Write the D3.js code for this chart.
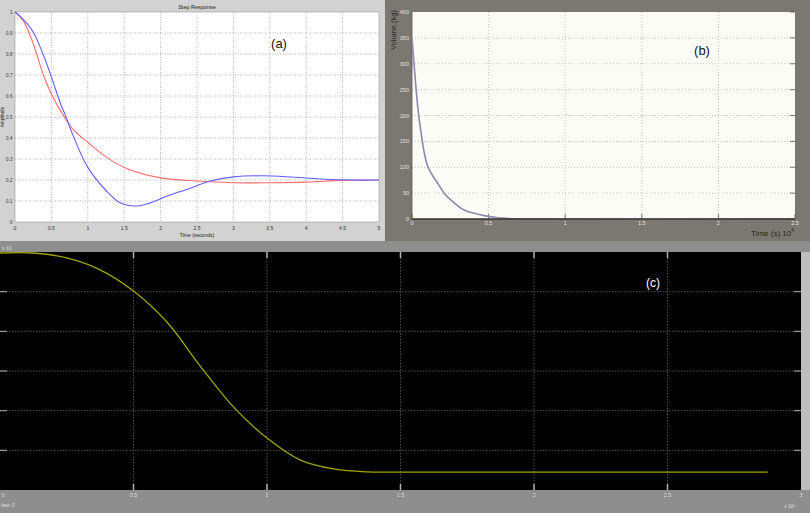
<!DOCTYPE html>
<html>
<head>
<meta charset="utf-8">
<script src="https://cdn.jsdelivr.net/npm/d3@7"></script>
<style>
  html, body { margin: 0; padding: 0; background: #ffffff; }
  svg { display: block; font-family: Arial, "Liberation Sans", sans-serif; }
</style>
</head>
<body>
<div id="content"></div>
<script>
// ---- data ----
// (a) step response, two systems
const aBlueTime = [0, 0.1, 0.25, 0.39, 0.5, 0.64, 0.69, 0.8, 1.0, 1.25, 1.45, 1.65, 1.85, 2.1, 2.4, 2.68, 3.0, 3.4, 3.8, 4.2, 4.6, 5.0];
const aBlueAmp  = [1, 0.97, 0.905, 0.795, 0.69, 0.55, 0.51, 0.41, 0.26, 0.15, 0.09, 0.076, 0.09, 0.125, 0.16, 0.195, 0.215, 0.22, 0.214, 0.205, 0.2, 0.2];
const aRedTime  = [0, 0.11, 0.25, 0.39, 0.5, 0.66, 0.8, 1.0, 1.25, 1.5, 2.0, 2.5, 3.0, 3.5, 4.0, 4.5, 5.0];
const aRedAmp   = [1, 0.96, 0.85, 0.70, 0.61, 0.51, 0.44, 0.38, 0.31, 0.26, 0.21, 0.195, 0.187, 0.187, 0.19, 0.198, 0.2];
const aXTicks = [0, 0.5, 1, 1.5, 2, 2.5, 3, 3.5, 4, 4.5, 5];
const aYTicks = [0, 0.1, 0.2, 0.3, 0.4, 0.5, 0.6, 0.7, 0.8, 0.9, 1];

// (b) volume decay
const bTime   = [0, 0.02, 0.04, 0.06, 0.08, 0.1, 0.13, 0.17, 0.215, 0.26, 0.31, 0.35, 0.42, 0.48, 0.55, 0.63, 0.75, 2.5];
const bVolume = [350, 275, 210, 165, 128, 104, 86, 68, 48, 35, 23, 16, 10, 6, 3, 1, 0, 0];
const bXTicks = [0, 0.5, 1, 1.5, 2, 2.5];
const bYTicks = [0, 50, 100, 150, 200, 250, 300, 350, 400];

// (c) scope trace
const cTime   = [0, 0.125, 0.25, 0.375, 0.5, 0.625, 0.75, 0.875, 1.0, 1.125, 1.25, 1.375, 1.5, 2.875];
const cSignal = [1.195, 1.195, 1.17, 1.11, 1.003, 0.847, 0.625, 0.418, 0.262, 0.151, 0.106, 0.091, 0.09, 0.09];
const cXTicks = [0, 0.5, 1, 1.5, 2, 2.5, 3];
const cYTicks = [0, 0.2, 0.4, 0.6, 0.8, 1.0, 1.2];

const W = 810, H = 513;
const svg = d3.select('#content').append('svg').attr('width', W).attr('height', H);
const smooth = d3.line().curve(d3.curveCatmullRom.alpha(0.5));

// ================= (a) =================
const ga = svg.append('g');
ga.append('rect').attr('x', 0).attr('y', 0).attr('width', 385).attr('height', 241).attr('fill', '#d2d2d2');
const ax = d3.scaleLinear().domain([0, 5]).range([15, 379]);
const ay = d3.scaleLinear().domain([0, 1]).range([222, 12]);
ga.append('rect').attr('x', 15).attr('y', 12).attr('width', 364).attr('height', 210).attr('fill', '#ffffff').attr('stroke', '#9a9a9a').attr('stroke-width', 0.6);
ga.selectAll('.agx').data(aXTicks.slice(1, -1)).join('line')
  .attr('x1', d => ax(d)).attr('x2', d => ax(d)).attr('y1', 12).attr('y2', 222)
  .attr('stroke', '#b4b4b4').attr('stroke-width', 1).attr('stroke-dasharray', '1,1.5');
ga.selectAll('.agy').data(aYTicks.slice(1, -1)).join('line')
  .attr('x1', 15).attr('x2', 379).attr('y1', d => ay(d)).attr('y2', d => ay(d))
  .attr('stroke', '#b4b4b4').attr('stroke-width', 1).attr('stroke-dasharray', '1,1.5');
ga.selectAll('.axl').data(aXTicks).join('text')
  .attr('x', d => ax(d)).attr('y', 230).attr('text-anchor', 'middle')
  .attr('font-size', 5).attr('fill', '#333').text(d => d);
ga.selectAll('.ayl').data(aYTicks).join('text')
  .attr('x', 12.5).attr('y', d => ay(d) + 2).attr('text-anchor', 'end')
  .attr('font-size', 4.6).attr('fill', '#333').text(d => d);
ga.append('text').attr('x', 197).attr('y', 9).attr('text-anchor', 'middle').attr('font-size', 5.5).attr('fill', '#222').text('Step Response');
ga.append('text').attr('x', 197).attr('y', 237).attr('text-anchor', 'middle').attr('font-size', 5).attr('fill', '#222').text('Time (seconds)');
ga.append('text').attr('transform', 'translate(4,117) rotate(-90)').attr('text-anchor', 'middle').attr('font-size', 4.6).attr('fill', '#222').text('Amplitude');
ga.append('path').attr('d', smooth(aRedTime.map((t, i) => [ax(t), ay(aRedAmp[i])])))
  .attr('fill', 'none').attr('stroke', '#ff6a6a').attr('stroke-width', 1.1);
ga.append('path').attr('d', smooth(aBlueTime.map((t, i) => [ax(t), ay(aBlueAmp[i])])))
  .attr('fill', 'none').attr('stroke', '#5f5fff').attr('stroke-width', 1.1);
ga.append('text').attr('x', 279).attr('y', 48).attr('text-anchor', 'middle').attr('font-size', 13).attr('fill', '#111').text('(a)');

// ================= (b) =================
const gb = svg.append('g');
gb.append('rect').attr('x', 385).attr('y', 0).attr('width', 425).attr('height', 241).attr('fill', '#7b7771');
const bx = d3.scaleLinear().domain([0, 2.5]).range([412, 795]);
const by = d3.scaleLinear().domain([0, 400]).range([219, 12]);
gb.append('rect').attr('x', 412).attr('y', 12).attr('width', 383).attr('height', 207).attr('fill', '#fcfcf7');
gb.selectAll('.bgx').data(bXTicks.slice(1, -1)).join('line')
  .attr('x1', d => bx(d)).attr('x2', d => bx(d)).attr('y1', 12).attr('y2', 219)
  .attr('stroke', '#c4c4c0').attr('stroke-width', 1).attr('stroke-dasharray', '1,2');
gb.selectAll('.bgy').data(bYTicks.slice(1, -1)).join('line')
  .attr('x1', 412).attr('x2', 795).attr('y1', d => by(d)).attr('y2', d => by(d))
  .attr('stroke', '#c4c4c0').attr('stroke-width', 1).attr('stroke-dasharray', '1,2');
gb.selectAll('.bty').data(bYTicks).join('line')
  .attr('x1', 790).attr('x2', 795).attr('y1', d => by(d)).attr('y2', d => by(d))
  .attr('stroke', '#555').attr('stroke-width', 0.8);
gb.selectAll('.btx').data(bXTicks).join('line')
  .attr('x1', d => bx(d)).attr('x2', d => bx(d)).attr('y1', 214).attr('y2', 219)
  .attr('stroke', '#555').attr('stroke-width', 0.8);
gb.append('line').attr('x1', 412).attr('x2', 412).attr('y1', 12).attr('y2', 219).attr('stroke', '#555').attr('stroke-width', 0.8);
gb.selectAll('.byl').data(bYTicks).join('text')
  .attr('x', 409).attr('y', d => by(d) + 2).attr('text-anchor', 'end')
  .attr('font-size', 5.5).attr('fill', '#e4e4e0').text(d => d);
gb.selectAll('.bxl').data(bXTicks).join('text')
  .attr('x', d => bx(d)).attr('y', 225).attr('text-anchor', 'middle')
  .attr('font-size', 5.5).attr('fill', '#e4e4e0').text(d => d);
gb.append('text').attr('transform', 'translate(396,30) rotate(-90)').attr('text-anchor', 'middle')
  .attr('font-size', 7.5).attr('fill', '#2a2a2a').text('Volume (kg)');
const bLabel = gb.append('text').attr('x', 794).attr('y', 236).attr('text-anchor', 'end')
  .attr('font-size', 8).attr('fill', '#2a2a2a').text('Time (s) 10');
bLabel.append('tspan').attr('dy', -4).attr('font-size', 5).text('4');
gb.append('path').attr('d', smooth(bTime.map((t, i) => [bx(t), by(bVolume[i])])))
  .attr('fill', 'none').attr('stroke', '#8c89ad').attr('stroke-width', 1.6);
gb.append('line').attr('x1', 412).attr('x2', 795).attr('y1', 219).attr('y2', 219).attr('stroke', '#333').attr('stroke-width', 1.6);
gb.append('text').attr('x', 702).attr('y', 55).attr('text-anchor', 'middle').attr('font-size', 13).attr('fill', '#111').text('(b)');

// ================= (c) =================
const gc = svg.append('g');
gc.append('rect').attr('x', 0).attr('y', 241).attr('width', 810).attr('height', 11).attr('fill', '#8e8e8e');
gc.append('rect').attr('x', 0).attr('y', 490).attr('width', 810).attr('height', 23).attr('fill', '#8e8e8e');
gc.append('rect').attr('x', 801).attr('y', 252).attr('width', 9).attr('height', 238).attr('fill', '#bdbdbd');
gc.append('rect').attr('x', 0).attr('y', 252).attr('width', 801).attr('height', 238).attr('fill', '#000000');
const cx = d3.scaleLinear().domain([0, 3]).range([0, 801]);
const cy = d3.scaleLinear().domain([0, 1.2]).range([490, 252]);
gc.selectAll('.cgx').data(cXTicks.slice(1, -1)).join('line')
  .attr('x1', d => cx(d)).attr('x2', d => cx(d)).attr('y1', 252).attr('y2', 490)
  .attr('stroke', '#4c4c4c').attr('stroke-width', 1).attr('stroke-dasharray', '1.5,1.5');
gc.selectAll('.cgy').data(cYTicks.slice(1, -1)).join('line')
  .attr('x1', 0).attr('x2', 801).attr('y1', d => cy(d)).attr('y2', d => cy(d))
  .attr('stroke', '#4c4c4c').attr('stroke-width', 1).attr('stroke-dasharray', '1.5,1.5');
// tick marks on the frame
gc.selectAll('.ctl').data(cYTicks.slice(1, -1)).join('line')
  .attr('x1', 0).attr('x2', 7).attr('y1', d => cy(d)).attr('y2', d => cy(d)).attr('stroke', '#b0b0b0');
gc.selectAll('.ctr').data(cYTicks.slice(1, -1)).join('line')
  .attr('x1', 794).attr('x2', 801).attr('y1', d => cy(d)).attr('y2', d => cy(d)).attr('stroke', '#b0b0b0');
gc.selectAll('.ctt').data(cXTicks.slice(1, -1)).join('line')
  .attr('x1', d => cx(d)).attr('x2', d => cx(d)).attr('y1', 252).attr('y2', 258).attr('stroke', '#b0b0b0').attr('stroke-width', 1.5);
gc.selectAll('.ctb').data(cXTicks.slice(1, -1)).join('line')
  .attr('x1', d => cx(d)).attr('x2', d => cx(d)).attr('y1', 484).attr('y2', 490).attr('stroke', '#b0b0b0').attr('stroke-width', 1.5);
gc.selectAll('.cxl').data(cXTicks).join('text')
  .attr('x', d => Math.min(Math.max(cx(d), 3), 803)).attr('y', 497).attr('text-anchor', 'middle')
  .attr('font-size', 5.5).attr('fill', '#dcdcdc').text(d => d);
gc.append('text').attr('x', 2).attr('y', 250).attr('font-size', 5).attr('fill', '#e0e0e0').text('x 10');
gc.append('text').attr('x', 790).attr('y', 508).attr('text-anchor', 'middle').attr('font-size', 5).attr('fill', '#e0e0e0').text('x 10\u2074');
gc.append('text').attr('x', 1).attr('y', 507).attr('font-size', 5).attr('fill', '#e0e0e0').text('fset:  0');
gc.append('path').attr('d', smooth(cTime.map((t, i) => [cx(t), cy(cSignal[i])])))
  .attr('fill', 'none').attr('stroke', '#a3a300').attr('stroke-width', 1.3);
gc.append('text').attr('x', 653).attr('y', 287).attr('text-anchor', 'middle').attr('font-size', 12).attr('fill', '#ffffff').text('(c)');
</script>
</body>
</html>
